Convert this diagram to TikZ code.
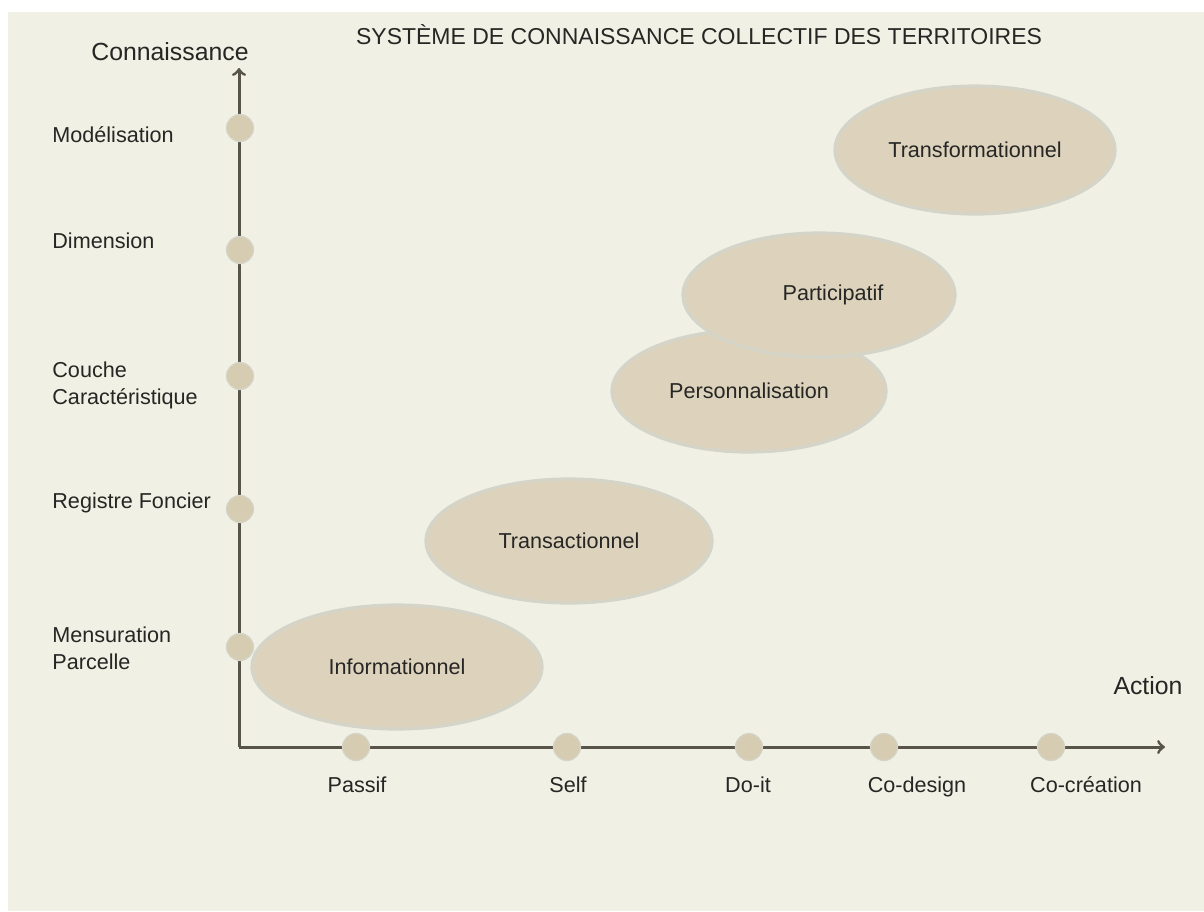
\documentclass[tikz,border=0pt]{standalone}
\usepackage{fontspec}
\setmainfont{Liberation Sans}
\usetikzlibrary{shapes.geometric}

\definecolor{paper}{RGB}{240,240,228}
\definecolor{sand}{RGB}{221,211,189}
\definecolor{rim}{RGB}{212,212,200}
\definecolor{pebble}{RGB}{214,204,178}
\definecolor{axisgrey}{RGB}{88,84,74}
\definecolor{ink}{RGB}{38,38,36}

\tikzset{
  axisline/.style={draw=axisgrey, line width=1.5pt, ->},
  pebble/.style={circle, fill=pebble, draw=rim, line width=0.6pt, minimum size=13.5pt, inner sep=0pt},
  phase/.style={ellipse, fill=sand, draw=rim, line width=1.6pt, inner sep=0pt,
                text=ink, font=\fontsize{10.8}{13}\selectfont},
  level/.style={anchor=west, align=left, text=ink, inner sep=0pt,
                font=\fontsize{10.8}{13.5}\selectfont},
  stage/.style={anchor=base, text=ink, inner sep=0pt, font=\fontsize{10.8}{13}\selectfont},
  axislabel/.style={text=ink, inner sep=0pt, font=\fontsize{12.4}{14}\selectfont}
}

\begin{document}
\begin{tikzpicture}[x=0.5pt,y=-0.5pt]

% Page
  \fill[white] (0,0) rectangle (1204,911);
  \fill[paper] (8,12) rectangle (1204,911);
  \useasboundingbox (0,0) rectangle (1204,911);

  \node[text=ink, inner sep=0pt, font=\fontsize{11.5}{13}\selectfont] (title) at (699,35)
    {SYSTÈME DE CONNAISSANCE COLLECTIF DES TERRITOIRES};

% Phases
  \node[phase, minimum width=140pt, minimum height=64pt] (transfo) at (975,150) {Transformationnel};
  \node[phase, minimum width=137pt, minimum height=61pt] (perso) at (749,391) {Personnalisation};
  \node[phase, minimum width=136pt, minimum height=62pt] (partic) at (819,295) {\hspace*{14pt}Participatif};
  \node[phase, minimum width=143pt, minimum height=62pt] (transac) at (569,541) {Transactionnel};
  \node[phase, minimum width=145pt, minimum height=62pt] (info) at (397,667) {Informationnel};

% Axis
  \coordinate (origin) at (239,747);
  \coordinate (ytip) at (239,68);
  \coordinate (xtip) at (1165,747);
  \draw[axisline] (origin) -- (ytip);
  \draw[axisline] (origin) -- (xtip);
  \node[axislabel] (knowledge) at (170,52) {Connaissance};
  \node[axislabel] (action) at (1148,686) {Action};

% Knowledge levels
  \foreach \y/\name in {128/kmod, 250/kdim, 376/kcouche, 509/kregistre, 647/kmesure}
    \node[pebble] (\name) at (240,\y) {};
  \node[level] (lmod) at (52,135) {Modélisation};
  \node[level] (ldim) at (52,241) {Dimension};
  \node[level] (lcouche) at (52,385) {Couche\\Caractéristique};
  \node[level] (lregistre) at (52,503) {Registre Foncier};
  \node[level] (lmesure) at (52,648) {Mensuration\\Parcelle};

% Action stages
  \foreach \x/\name in {356/apassif, 567/aself, 749/adoit, 884/adesign, 1051/acreation}
    \node[pebble] (\name) at (\x,747) {};
  \node[stage] (lpassif) at (357,792) {Passif};
  \node[stage] (lself) at (568,792) {Self};
  \node[stage] (ldoit) at (748,792) {Do-it};
  \node[stage] (ldesign) at (917,792) {Co-design};
  \node[stage] (lcreation) at (1086,792) {Co-création};

\end{tikzpicture}
\end{document}
